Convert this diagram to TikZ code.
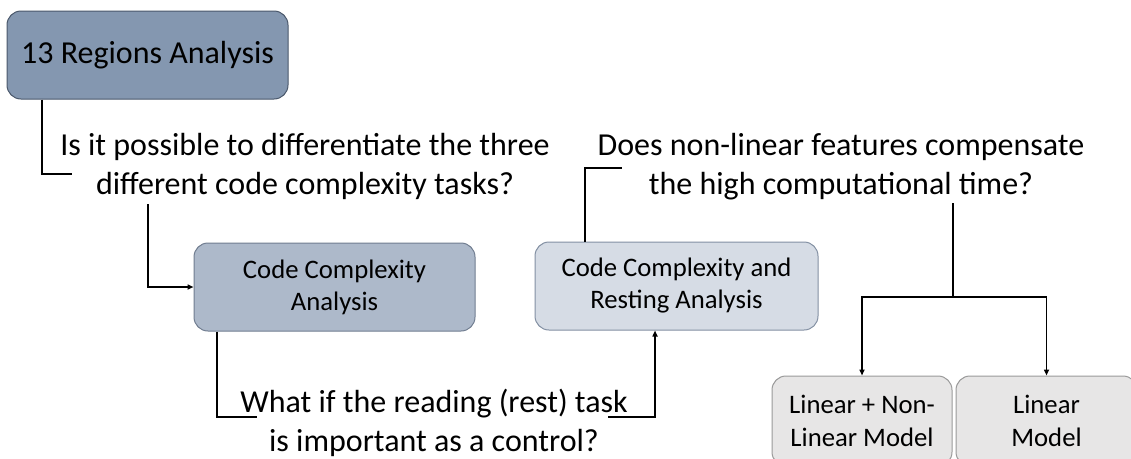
\documentclass[tikz,border=0pt]{standalone}
\usepackage{fontspec}
\setmainfont{Carlito}
\usetikzlibrary{arrows.meta}
\definecolor{fillA}{HTML}{8497B0}
\definecolor{lineA}{HTML}{4A586B}
\definecolor{fillB}{HTML}{ADB9CA}
\definecolor{lineB}{HTML}{707D90}
\definecolor{fillC}{HTML}{D6DCE5}
\definecolor{lineC}{HTML}{8390A3}
\definecolor{fillD}{HTML}{E7E6E6}
\definecolor{lineD}{HTML}{9A9A9A}
\begin{document}
\begin{tikzpicture}[x=1pt,y=-1pt,
  box/.style={draw, rounded corners=14pt, line width=1pt, inner sep=0pt, align=center,
    font=\fontsize{26.7}{32}\selectfont, text=black},
  qtext/.style={inner sep=0pt, align=center, font=\fontsize{32}{39}\selectfont},
  conn/.style={line width=1.8pt, black},
  arr/.style={conn, -{Triangle[length=6pt,width=5pt]}}]
\clip (0,0) rectangle (1131,458);
\fill[white] (0,0) rectangle (1131,458);

% boxes
\node[box, fill=fillA, draw=lineA, minimum width=281pt, minimum height=88pt,
  font=\fontsize{32}{39}\selectfont] (b1) at (147.5,55) {13 Regions Analysis};
\node[box, fill=fillB, draw=lineB, minimum width=281pt, minimum height=88pt] (b2) at (334.5,287)
  {Code Complexity\\Analysis};
\node[box, fill=fillC, draw=lineC, minimum width=283pt, minimum height=88pt] (b3) at (676.5,286)
  {Code Complexity and\\Resting Analysis};
\node[box, fill=fillD, draw=lineD, minimum width=180pt, minimum height=90pt,
  font=\fontsize{26.7}{33}\selectfont] (b4) at (862,421) {Linear + Non-\\Linear Model};
\node[box, fill=fillD, draw=lineD, minimum width=181pt, minimum height=90pt,
  font=\fontsize{26.7}{33}\selectfont] (b5) at (1046.5,421) {Linear\\Model};

% question texts
\node[qtext] (q1) at (305,166) {Is it possible to differentiate the three\\different code complexity tasks?};
\node[qtext] (q2) at (841,167) {Does non-linear features compensate\\the high computational time?};
\node[qtext] (q3) at (434,422.5) {What if the reading (rest) task\\is important as a control?};

% elbow points
\coordinate (k1) at (42,174);
\coordinate (q1in) at (72,174);
\coordinate (q1out) at (148,204);
\coordinate (k3) at (217,417);
\coordinate (q3in) at (257,417);
\coordinate (q3out) at (608,417);
\coordinate (k4) at (655,417);
\coordinate (k5) at (585,168);
\coordinate (q2in) at (622,168);
\coordinate (q2out) at (953,203);
\coordinate (k6) at (953,297);

% connectors
\draw[conn] (b1.south -| k1) -- (k1) -- (q1in);
\draw[arr] (q1out) |- (b2.west);
\draw[conn] (b2.south -| k3) -- (k3) -- (q3in);
\draw[arr] (q3out) -- (k4) -- (b3.south -| k4);
\draw[conn] (b3.north -| k5) -- (k5) -- (q2in);
\draw[conn] (q2out) -- (k6);
\draw[arr] (k6) -| (b4.north);
\draw[arr] (k6) -| (b5.north);
\end{tikzpicture}
\end{document}
